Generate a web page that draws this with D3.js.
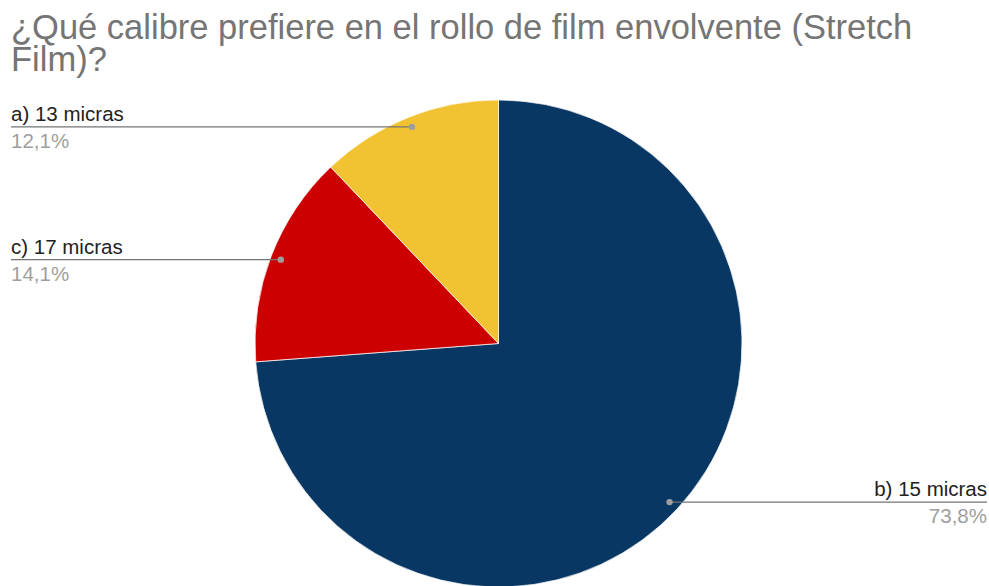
<!DOCTYPE html>
<html>
<head>
<meta charset="utf-8">
<script src="https://cdn.jsdelivr.net/npm/d3@7"></script>
<style>
  body { margin: 0; background: #fff; }
  text { font-family: "Liberation Sans", Arial, sans-serif; }
</style>
</head>
<body>
<div class="chart"></div>
<script>
var width = 989,
    height = 586;

// data, in drawing order (clockwise from 12 o'clock)
var labels = ["b) 15 micras", "c) 17 micras", "a) 13 micras"];
var values = [73.8, 14.1, 12.1];
var pctText = ["73,8%", "14,1%", "12,1%"];
var colors = ["#093763", "#cc0000", "#f1c232"];

var cx = 498.5, cy = 343.5, radius = 243.5;

var svg = d3.select(".chart").append("svg")
    .attr("width", width)
    .attr("height", height);

// title
var title = svg.append("text")
    .attr("fill", "#757575")
    .style("font-size", "34.5px");
title.append("tspan").attr("x", 11).attr("y", 39)
    .text("¿Qué calibre prefiere en el rollo de film envolvente (Stretch");
title.append("tspan").attr("x", 11).attr("y", 71).text("Film)?");

var slices = labels.map(function(l, i) { return {label: l, value: values[i], pct: pctText[i], color: colors[i]}; });

var pie = d3.pie().sort(null).value(function(d) { return d.value; });
var arc = d3.arc().innerRadius(0).outerRadius(radius);

var g = svg.append("g").attr("transform", "translate(" + cx + "," + cy + ")");

var arcs = pie(slices);

g.selectAll("path")
  .data(arcs)
  .enter().append("path")
    .attr("d", arc)
    .attr("fill", function(d) { return d.data.color; })
    .attr("stroke", "#fff")
    .attr("stroke-width", 0.7);

// leader lines + labels
var dotR = radius * 0.958;
arcs.forEach(function(d) {
  var a = (d.startAngle + d.endAngle) / 2;
  var px = cx + Math.sin(a) * dotR,
      py = cy - Math.cos(a) * dotR;
  var right = Math.sin(a) > 0;
  var x2 = right ? 987 : 11;

  svg.append("line")
    .attr("x1", px).attr("y1", py)
    .attr("x2", x2).attr("y2", py)
    .attr("stroke", "#757575")
    .attr("stroke-width", 1.2);
  svg.append("circle")
    .attr("cx", px).attr("cy", py).attr("r", 3.2)
    .attr("fill", "#9e9e9e");

  svg.append("text")
    .attr("x", x2).attr("y", py - 6)
    .attr("text-anchor", right ? "end" : "start")
    .attr("fill", "#222")
    .style("font-size", "20.5px")
    .text(d.data.label);
  svg.append("text")
    .attr("x", x2).attr("y", py + 21)
    .attr("text-anchor", right ? "end" : "start")
    .attr("fill", "#9e9e9e")
    .style("font-size", "20.5px")
    .text(d.data.pct);
});
</script>
</body>
</html>
